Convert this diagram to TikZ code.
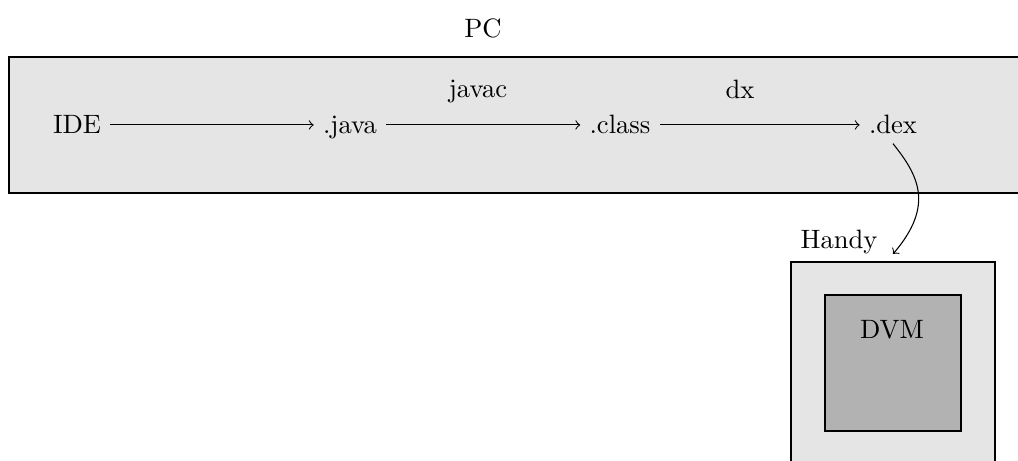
\documentclass[tikz,border=0pt]{standalone}
\usetikzlibrary{calc}
\begin{document}
\begin{tikzpicture}[x=0.3763pt, y=-0.3763pt,
  area/.style={draw=black, fill=gray!20},
  inner/.style={draw=black, fill=gray!60},
  item/.style={anchor=base, inner sep=3.33pt},
  lbl/.style={anchor=base},
  flow/.style={->},
]
\useasboundingbox (0,0) rectangle (1018,461);
\clip (0,0) rectangle (1018,461);

% boxes
\draw[area] (9,57) rectangle (1040,193);
\draw[area] (791,262) rectangle (995,480);
\draw[inner] (825,295) rectangle (961,431);

% labels
\node[lbl] (pc) at (483,38) {PC};
\node[lbl] (handy) at (839,249) {Handy};
\node[lbl] (dvm) at (892,339) {DVM};
\node[lbl] (javac) at (478,98) {javac};
\node[lbl] (dx) at (740,99) {dx};

% chain
\node[item] (ide) at (77,134) {IDE};
\node[item] (java) at (350,134) {.java};
\node[item] (class) at (620,134) {.class};
\node[item] (dex) at (893,134) {.dex};

\draw[flow] ([yshift=3.4pt]ide.base east) -- ([yshift=3.4pt]java.base west);
\draw[flow] ([yshift=3.4pt]java.base east) -- ([yshift=3.4pt]class.base west);
\draw[flow] ([yshift=3.4pt]class.base east) -- ([yshift=3.4pt]dex.base west);

\coordinate (handytop) at (893,254);
\draw[flow] (dex.south) .. controls (918,175) and (935,205) .. (handytop);
\end{tikzpicture}
\end{document}
